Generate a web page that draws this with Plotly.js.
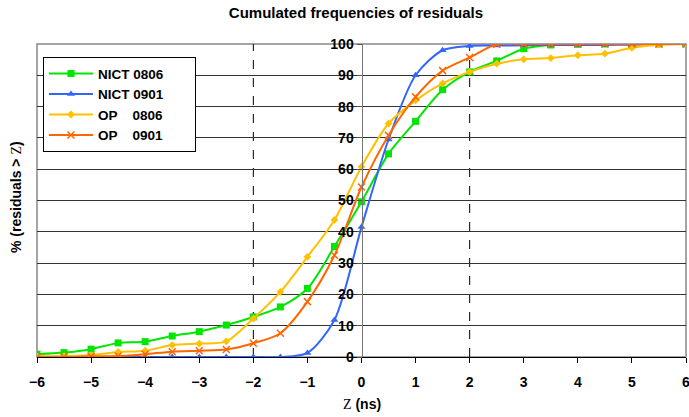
<!DOCTYPE html>
<html>
<head>
<meta charset="utf-8">
<script src="https://cdn.plot.ly/plotly-3.0.1.min.js"></script>
<style>html,body{margin:0;padding:0;background:#fff;}#chart{width:689px;height:417px;}</style>
</head>
<body>
<div id="chart"></div>
<script>
var zValues = [-6,-5.5,-5,-4.5,-4,-3.5,-3,-2.5,-2,-1.5,-1,-0.5,0,0.5,1,1.5,2,2.5,3,3.5,4,4.5,5,5.5,6];
var nict0806 = [0.9,1.4,2.5,4.5,4.9,6.7,8.1,10.2,12.8,16.0,21.9,35.3,49.6,64.9,75.3,85.4,91.1,94.6,98.5,99.7,99.9,100,100,100,100];
var nict0901 = [0,0,0,0,0,0,0,0,0,0,1.3,11.8,41.5,69.5,90.0,98.0,99.4,99.5,99.6,99.7,99.7,99.7,99.8,99.9,100];
var op0806   = [0.2,0.3,0.6,1.6,2.0,3.8,4.3,5.0,12.3,20.8,32.0,43.8,60.8,74.6,82.0,87.4,91.1,93.7,95.1,95.5,96.4,96.9,98.8,99.8,100];
var op0901   = [0,0,0.2,0.3,0.9,1.7,2.0,2.4,4.4,7.6,17.7,32.5,54.3,70.8,83.1,91.5,95.7,99.9,100,100,100,100,100,100,100];
var seriesNames = ['NICT 0806','NICT 0901','OP\u00a0\u00a0\u00a0\u00a00806','OP\u00a0\u00a0\u00a0\u00a00901'];
var xTickVals = [-6,-5,-4,-3,-2,-1,0,1,2,3,4,5,6];
var yTickVals = [0,10,20,30,40,50,60,70,80,90,100];

var FONT = 'Arial, "Liberation Sans", sans-serif';
var PAD = '\u00a0\u00a0\u00a0\u00a0\u00a0\u00a0\u00a0';
function tr(y, name, color, symbol, size, extra) {
  var m = {symbol: symbol, size: size, color: color, line: {color: color, width: extra || 0}};
  return {x: zValues, y: y, name: name + PAD, type: 'scatter', mode: 'lines+markers',
    line: {color: color, width: 2, shape: 'spline', smoothing: 0.8}, marker: m};
}
var data = [
  tr(nict0806, seriesNames[0], '#00e600', 'square', 7),
  tr(nict0901, seriesNames[1], '#3366ff', 'triangle-up', 7),
  tr(op0806, seriesNames[2], '#ffc000', 'diamond', 6),
  tr(op0901, seriesNames[3], '#ff6600', 'x-thin-open', 7, 1.5)
];
var tickF = {size: 14, family: FONT, weight: 'bold', color: '#000'};
var layout = {
  width: 689, height: 417,
  margin: {l: 37, r: 3, t: 44, b: 60},
  paper_bgcolor: '#fff', plot_bgcolor: '#fff',
  font: {family: FONT, color: '#000'},
  showlegend: true,
  title: {text: 'Cumulated frequencies of residuals', font: {size: 15, family: FONT, color: '#000', weight: 'bold'},
    x: 0.4915, xref: 'paper', y: 1 - 13/417, yref: 'container', xanchor: 'center', yanchor: 'middle'},
  xaxis: {range: [-6, 6], tickvals: xTickVals, color: '#000',
    ticks: 'outside', ticklen: 5, tickcolor: '#000', showline: true, linecolor: '#000', linewidth: 1,
    showgrid: false, zeroline: false, tickfont: tickF, ticklabelstandoff: 7,
    ticklabeloverflow: 'allow', fixedrange: true},
  yaxis: {range: [0, 100], tickvals: yTickVals, color: '#000',
    anchor: 'free', position: 0.5, ticks: 'outside', ticklen: 5, tickcolor: '#555',
    showline: true, linecolor: '#777', linewidth: 1.5, showgrid: true, gridcolor: '#333', gridwidth: 1,
    zeroline: false, tickfont: tickF, ticklabeloverflow: 'allow', fixedrange: true},
  legend: {x: 0.0092, y: 0.958, xanchor: 'left', yanchor: 'top', bgcolor: '#fff', bordercolor: '#000', borderwidth: 1,
    font: {size: 13.5, family: FONT, color: '#000', weight: 'bold'}, itemwidth: 44, tracegroupgap: 0},
  shapes: [
    {type: 'rect', xref: 'paper', yref: 'paper', x0: 0, x1: 1, y0: 0, y1: 1, line: {color: '#888', width: 1.5}, layer: 'below'},
    {type: 'line', xref: 'x', yref: 'paper', x0: -2, x1: -2, y0: 0, y1: 1, line: {color: '#000', width: 1, dash: 'dash'}, layer: 'below'},
    {type: 'line', xref: 'x', yref: 'paper', x0: 2, x1: 2, y0: 0, y1: 1, line: {color: '#000', width: 1, dash: 'dash'}, layer: 'below'}
  ],
  annotations: [
    {text: '<b><span style="font-family:\'Liberation Serif\',\'Times New Roman\',serif;font-weight:normal">Z</span> (ns)</b>',
      xref: 'x', yref: 'paper', x: 0, y: (357-404)/313, xanchor: 'center', yanchor: 'middle', showarrow: false,
      font: {size: 14, family: FONT, color: '#000'}},
    {text: '<b>% (residuals &gt; <span style="font-family:\'Liberation Serif\',\'Times New Roman\',serif;font-weight:normal">Z</span>)</b>',
      xref: 'paper', yref: 'paper', x: (16-37)/649, y: (357-197)/313, xanchor: 'center', yanchor: 'middle', showarrow: false,
      textangle: -90, font: {size: 14, family: FONT, color: '#000'}}
  ]
};
Plotly.newPlot('chart', data, layout, {displayModeBar: false, staticPlot: true});
</script>
</body>
</html>
